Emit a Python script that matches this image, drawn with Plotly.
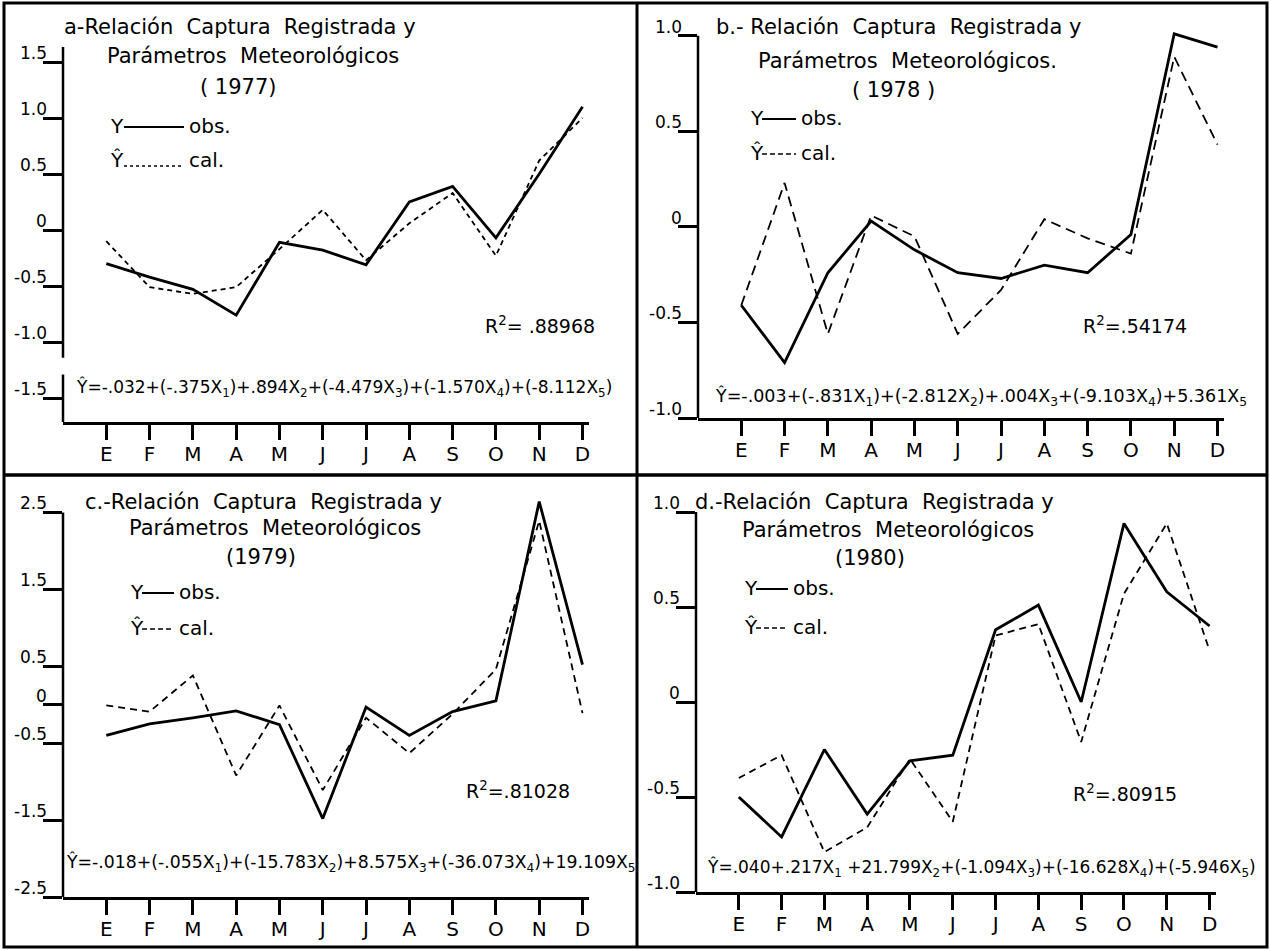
import plotly.graph_objects as go

W, H = 1271, 950
FONT = "DejaVu Sans"
NB = "\u00a0"
SP = NB + NB

# ---------------- data ----------------
months = ["E", "F", "M", "A", "M", "J", "J", "A", "S", "O", "N", "D"]

obs_1977 = [-0.30, -0.42, -0.53, -0.76, -0.11, -0.18, -0.31, 0.25, 0.39, -0.07, 0.50, 1.10]
cal_1977 = [-0.10, -0.51, -0.57, -0.51, -0.17, 0.18, -0.27, 0.06, 0.33, -0.23, 0.62, 1.00]

obs_1978 = [-0.41, -0.71, -0.24, 0.03, -0.12, -0.24, -0.27, -0.20, -0.24, -0.04, 1.01, 0.94]
cal_1978 = [-0.41, 0.23, -0.56, 0.06, -0.05, -0.56, -0.33, 0.04, -0.06, -0.14, 0.89, 0.43]

obs_1979 = [-0.40, -0.25, -0.17, -0.08, -0.26, -1.48, -0.03, -0.40, -0.09, 0.05, 2.64, 0.52]
cal_1979 = [-0.01, -0.09, 0.38, -0.92, -0.01, -1.11, -0.17, -0.63, -0.12, 0.46, 2.39, -0.11]

obs_1980 = [-0.50, -0.71, -0.25, -0.59, -0.31, -0.28, 0.38, 0.51, 0.00, 0.94, 0.58, 0.40]
cal_1980 = [-0.40, -0.28, -0.79, -0.66, -0.30, -0.63, 0.35, 0.41, -0.21, 0.57, 0.94, 0.27]

ticks_a = [1.5, 1.0, 0.5, 0, -0.5, -1.0, -1.5]
ticktext_a = ["1.5", "1.0", "0.5", "0", "-0.5", "-1.0", "-1.5"]
ticks_b = [1.0, 0.5, 0, -0.5, -1.0]
ticktext_b = ["1.0", "0.5", "0", "-0.5", "-1.0"]
ticks_c = [2.5, 1.5, 0.5, 0, -0.5, -1.5, -2.5]
ticktext_c = ["2.5", "1.5", "0.5", "0", "-0.5", "-1.5", "-2.5"]
ticks_d = [1.0, 0.5, 0, -0.5, -1.0]
ticktext_d = ["1.0", "0.5", "0", "-0.5", "-1.0"]

titles = [
    ("a-Relación" + SP + "Captura" + SP + "Registrada" + NB + "y", "Parámetros" + SP + "Meteorológicos", "(" + NB + "1977)"),
    ("b.-" + NB + "Relación" + SP + "Captura" + SP + "Registrada" + NB + "y", "Parámetros" + SP + "Meteorológicos.", "(" + NB + "1978" + NB + ")"),
    ("c.-Relación" + SP + "Captura" + SP + "Registrada" + NB + "y", "Parámetros" + SP + "Meteorológicos", "(1979)"),
    ("d.-Relación" + SP + "Captura" + SP + "Registrada" + NB + "y", "Parámetros" + SP + "Meteorológicos", "(1980)"),
]
r2_texts = ["R<sup>2</sup>= .88968", "R<sup>2</sup>=.54174", "R<sup>2</sup>=.81028", "R<sup>2</sup>=.80915"]
equations = [
    "Ŷ=-.032+(-.375X<sub>1</sub>)+.894X<sub>2</sub>+(-4.479X<sub>3</sub>)+(-1.570X<sub>4</sub>)+(-8.112X<sub>5</sub>)",
    "Ŷ=-.003+(-.831X<sub>1</sub>)+(-2.812X<sub>2</sub>)+.004X<sub>3</sub>+(-9.103X<sub>4</sub>)+5.361X<sub>5</sub>",
    "Ŷ=-.018+(-.055X<sub>1</sub>)+(-15.783X<sub>2</sub>)+8.575X<sub>3</sub>+(-36.073X<sub>4</sub>)+19.109X<sub>5</sub>",
    "Ŷ=.040+.217X<sub>1</sub>" + NB + "+21.799X<sub>2</sub>+(-1.094X<sub>3</sub>)+(-16.628X<sub>4</sub>)+(-5.946X<sub>5</sub>)",
]
legend_obs = ("Y", "obs.")
legend_cal = ("Ŷ", "cal.")

# ---------------- layout config (pixel positions) ----------------
panels = [
    dict(obs=obs_1977, cal=cal_1977, tv=ticks_a, tt=ticktext_a,
         yrange=[-1.714, 1.634], axis_segments=[(-1.714, -1.29), (-1.14, 1.634)],
         dx=(63, 589), dy=(47, 422), dash="5px,4px",
         t1=(240, 27), t2=(253, 56), t3=(238, 87),
         leg=(108, 124, 184, 126, 160), cal_off=6, cal_dash="3px,3px",
         r2=(540, 325), eq=(344, 388), eqsize=17),
    dict(obs=obs_1978, cal=cal_1978, tv=ticks_b, tt=ticktext_b,
         yrange=[-1.0, 1.03], axis_segments=[(-1.0, 1.0)],
         dx=(698, 1224), dy=(30, 418), dash="10px,6px",
         t1=(898, 27), t2=(907, 61), t3=(893, 90),
         leg=(748, 762, 796, 118, 153), cal_off=1, cal_dash="5px,3px",
         r2=(1135, 325), eq=(981, 397), eqsize=17.5),
    dict(obs=obs_1979, cal=cal_1979, tv=ticks_c, tt=ticktext_c,
         yrange=[-2.5, 2.7], axis_segments=[(-2.5, 2.5)],
         dx=(63, 589), dy=(497, 897), dash="7px,5px",
         t1=(263, 502), t2=(275, 528), t3=(261, 557),
         leg=(128, 142, 174, 592, 628), cal_off=1, cal_dash="5px,3px",
         r2=(518, 790), eq=(350, 863), eqsize=17.3),
    dict(obs=obs_1980, cal=cal_1980, tv=ticks_d, tt=ticktext_d,
         yrange=[-1.0, 1.0], axis_segments=[(-1.0, 1.0)],
         dx=(696, 1216), dy=(512, 892), dash="7px,5px",
         t1=(874, 502), t2=(888, 530), t3=(870, 558),
         leg=(742, 756, 788, 588, 627), cal_off=1, cal_dash="5px,3px",
         r2=(1125, 793), eq=(981, 868), eqsize=17),
]

def px(x):
    return x / W

def py(y):
    return 1 - y / H

def ann(text, x, y, size, xanchor="center"):
    return dict(text=text, x=px(x), y=py(y), xref="paper", yref="paper",
                xanchor=xanchor, yanchor="middle", showarrow=False,
                font=dict(size=size, family=FONT, color="black"))

fig = go.Figure()
annotations = []
shapes = []
month_index = list(range(len(months)))

for i, p in enumerate(panels):
    n = "" if i == 0 else str(i + 1)
    xa, ya = "x" + n, "y" + n
    fig.add_trace(go.Scatter(x=month_index, y=p["obs"], mode="lines", xaxis=xa, yaxis=ya,
                             line=dict(color="black", width=2.8), showlegend=False, name="Y obs."))
    fig.add_trace(go.Scatter(x=month_index, y=p["cal"], mode="lines", xaxis=xa, yaxis=ya,
                             line=dict(color="black", width=1.8, dash=p["dash"]), showlegend=False, name="Ŷ cal."))
    fig.layout["xaxis" + n] = dict(
        domain=[px(p["dx"][0]), px(p["dx"][1])], anchor=ya, range=[-1, 11.15],
        tickmode="array", tickvals=month_index, ticktext=months,
        ticks="outside", ticklen=15, tickwidth=2.5, tickcolor="black",
        ticklabelstandoff=-3,
        showline=True, linewidth=2.5, linecolor="black", showgrid=False, zeroline=False,
        tickfont=dict(size=20, family=FONT, color="black"), fixedrange=True)
    fig.layout["yaxis" + n] = dict(
        domain=[py(p["dy"][1]), py(p["dy"][0])], anchor=xa, range=p["yrange"],
        tickmode="array", tickvals=p["tv"], ticktext=p["tt"],
        ticks="outside", ticklen=19, tickwidth=2.5, tickcolor="black",
        showticklabels=False, showline=False, showgrid=False, zeroline=False,
        fixedrange=True)
    # y tick labels sitting on top of their tick marks, as in the reference
    for v, t in zip(p["tv"], p["tt"]):
        annotations.append(dict(text=t, xref=xa + " domain", yref=ya, x=0, y=v,
                                xanchor="right", yanchor="bottom", xshift=-14, yshift=-3,
                                showarrow=False, font=dict(size=17, family=FONT, color="black")))
    for (s0, s1) in p["axis_segments"]:
        shapes.append(dict(type="line", xref=xa + " domain", yref=ya, x0=0, x1=0, y0=s0, y1=s1,
                           line=dict(color="black", width=2.5)))
    t1, t2, t3 = titles[i]
    annotations.append(ann(t1, p["t1"][0], p["t1"][1], 21))
    annotations.append(ann(t2, p["t2"][0], p["t2"][1], 21))
    annotations.append(ann(t3, p["t3"][0], p["t3"][1], 21))
    lx, l0, l1, ly1, ly2 = p["leg"]
    annotations.append(ann(legend_obs[0], lx, ly1, 20, "left"))
    annotations.append(ann(legend_obs[1], l1 + 3, ly1, 20, "left"))
    annotations.append(ann(legend_cal[0], lx, ly2, 20, "left"))
    annotations.append(ann(legend_cal[1], l1 + 3, ly2, 20, "left"))
    shapes.append(dict(type="line", xref="paper", yref="paper", x0=px(l0), x1=px(l1),
                       y0=py(ly1 + 1), y1=py(ly1 + 1), line=dict(color="black", width=2)))
    shapes.append(dict(type="line", xref="paper", yref="paper", x0=px(l0), x1=px(l1),
                       y0=py(ly2 + p["cal_off"]), y1=py(ly2 + p["cal_off"]),
                       line=dict(color="black", width=1.6, dash=p["cal_dash"])))
    annotations.append(ann(r2_texts[i], p["r2"][0], p["r2"][1], 19))
    annotations.append(ann(equations[i], p["eq"][0], p["eq"][1], p["eqsize"]))

# frame and dividers
shapes.append(dict(type="rect", xref="paper", yref="paper", x0=px(4), x1=px(1267), y0=py(947), y1=py(3),
                   line=dict(color="black", width=3)))
shapes.append(dict(type="line", xref="paper", yref="paper", x0=px(637), x1=px(637), y0=py(947), y1=py(3),
                   line=dict(color="black", width=3)))
shapes.append(dict(type="line", xref="paper", yref="paper", x0=px(4), x1=px(1267), y0=py(475), y1=py(475),
                   line=dict(color="black", width=3.5)))

fig.update_layout(
    width=W, height=H, margin=dict(l=0, r=0, t=0, b=0),
    paper_bgcolor="white", plot_bgcolor="white",
    showlegend=False, annotations=annotations, shapes=shapes,
    font=dict(family=FONT, color="black"),
)

fig.write_html("out.html", config={"displayModeBar": False},
               post_script="document.body.style.margin='0';document.body.style.overflow='hidden';")
